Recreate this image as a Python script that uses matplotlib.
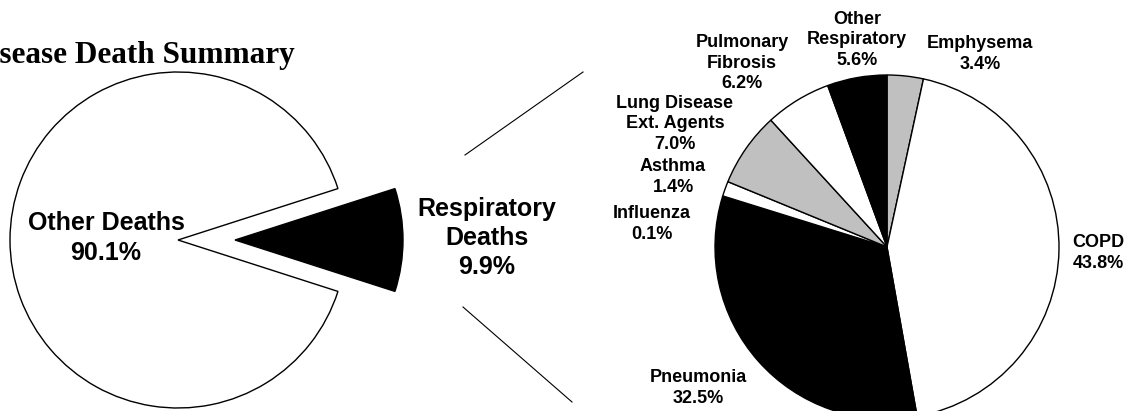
"""Lung disease death summary: overall split plus respiratory breakdown pie."""

import matplotlib
matplotlib.use("Agg")
import matplotlib.pyplot as plt

W, H = 1133, 411

# overall deaths split
overall_labels = ["Respiratory\nDeaths", "Other Deaths"]
overall_values = [9.9, 90.1]

# respiratory breakdown, clockwise from 12 o'clock
resp_labels = [
    "Emphysema",
    "COPD",
    "Pneumonia",
    "Influenza",
    "Asthma",
    "Lung Disease\nExt. Agents",
    "Pulmonary\nFibrosis",
    "Other\nRespiratory",
]
resp_values = [3.4, 43.8, 32.5, 0.1, 1.4, 7.0, 6.2, 5.6]

GRAY = "#c0c0c0"
resp_colors = [GRAY, "white", "black", GRAY, "white", GRAY, "white", "black"]

# label anchor points (pixels from top-left)
overall_label_pos = [(487, 238), (106, 238)]
resp_label_pos = [
    (980, 54),
    (1098, 253),
    (698, 388),
    (652, 224),
    (673, 177),
    (675, 124),
    (742, 63),
    (857, 40),
]

SANS = ["Liberation Sans", "DejaVu Sans"]


def py(y):
    """Flip a top-based pixel y to axis data y."""
    return H - y


fig = plt.figure(figsize=(W / 100, H / 100), dpi=100)
ax = fig.add_axes([0, 0, 1, 1])

wedge_style = {"edgecolor": "black", "linewidth": 1.0}

# left pie, respiratory slice pulled out to the right
# (explode is in data units here, since radius is in pixels)
ax.pie(
    overall_values,
    colors=["black", "white"],
    center=(178, py(240)),
    radius=168,
    startangle=-overall_values[0] / 100 * 360 / 2,
    explode=[57, 0],
    wedgeprops=wedge_style,
    frame=True,
)

# right pie, breakdown
ax.pie(
    resp_values,
    colors=resp_colors,
    center=(887, py(247)),
    radius=172,
    startangle=90,
    counterclock=False,
    wedgeprops=wedge_style,
    frame=True,
)
ax.set_xlim(0, W)
ax.set_ylim(0, H)
ax.set_aspect("equal")
ax.axis("off")

for name, val, (x, y) in zip(overall_labels, overall_values, overall_label_pos):
    ax.text(x, py(y), f"{name}\n{val:.1f}%", ha="center", va="center",
            fontsize=18, fontweight="bold", family=SANS, linespacing=1.27)

for name, val, (x, y) in zip(resp_labels, resp_values, resp_label_pos):
    ax.text(x, py(y), f"{name}\n{val:.1f}%", ha="center", va="center",
            fontsize=13, fontweight="bold", family=SANS, linespacing=1.3)

# zoom connector lines
ax.plot([465, 583], [py(155), py(72)], color="black", linewidth=0.8)
ax.plot([463, 572], [py(307), py(402)], color="black", linewidth=0.8)

ax.text(295, py(63), "Lung Disease Death Summary", ha="right", va="baseline",
        fontsize=22.5, fontweight="bold", family=["Liberation Serif", "DejaVu Serif"])

fig.savefig("out.png", dpi=100)
